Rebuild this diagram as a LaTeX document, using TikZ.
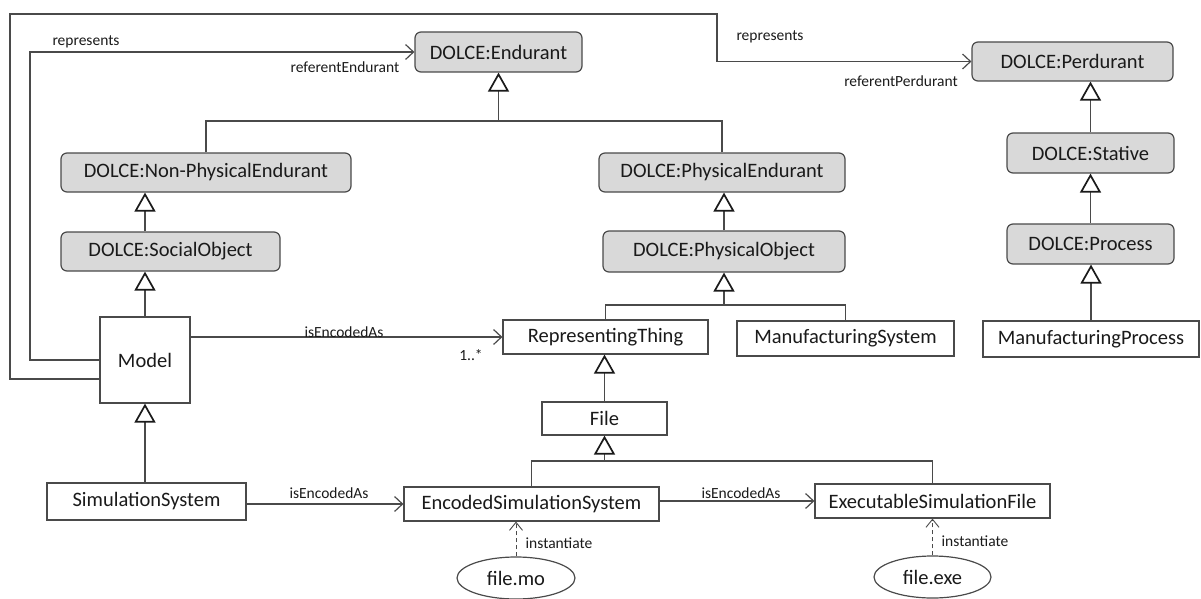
\documentclass[tikz,border=0pt]{standalone}
\usepackage{fontspec}
\setmainfont{Carlito}
\usetikzlibrary{arrows.meta,shapes.geometric,calc}
\definecolor{boxfill}{HTML}{D9D9D9}
\definecolor{linec}{HTML}{4A4A4A}
\definecolor{tipc}{HTML}{1A1A1A}
\definecolor{txtc}{HTML}{1A1A1A}
\tikzset{
  base/.style={draw=linec, line width=1.2pt, inner sep=0pt, text=txtc, font=\fontsize{20.5}{24}\selectfont, anchor=center},
  dolce/.style={base, fill=boxfill, rounded corners=6pt},
  cls/.style={base, fill=white},
  inst/.style={base, ellipse, fill=white},
  lbl/.style={text=txtc, font=\fontsize{15.5}{18}\selectfont, inner sep=0pt, anchor=center},
  conn/.style={draw=linec, line width=1.2pt},
  gen/.style={conn, -{Triangle[open, length=19pt, width=21pt, fill=white, color=tipc, line width=1.7pt]}},
  assoc/.style={conn, -{Straight Barb[length=8pt, width=15pt]}},
  dep/.style={draw=linec, line width=0.9pt, dash pattern=on 4pt off 3pt, -{Straight Barb[length=8pt, width=13pt]}},
}
\begin{document}
\begin{tikzpicture}[x=1pt, y=-1pt]
\useasboundingbox (0,0) rectangle (1201,599);
% DOLCE classes
\node[dolce, minimum width=167pt, minimum height=40pt] (end) at (498.5,52) {DOLCE:Endurant};
\node[dolce, minimum width=290pt, minimum height=39pt] (np) at (206,172.5) {DOLCE:Non-PhysicalEndurant};
\node[dolce, minimum width=219pt, minimum height=39pt] (so) at (170.5,251.5) {DOLCE:SocialObject};
\node[dolce, minimum width=246pt, minimum height=39pt] (pe) at (722,172.5) {DOLCE:PhysicalEndurant};
\node[dolce, minimum width=242pt, minimum height=41pt] (po) at (724,251.5) {DOLCE:PhysicalObject};
\node[dolce, minimum width=201pt, minimum height=39pt] (pd) at (1072.5,61.5) {DOLCE:Perdurant};
\node[dolce, minimum width=167pt, minimum height=40pt] (st) at (1090.5,153) {DOLCE:Stative};
\node[dolce, minimum width=167pt, minimum height=40pt] (pr) at (1090.5,244) {DOLCE:Process};
% plain classes
\node[cls, minimum width=90pt, minimum height=86pt] (mdl) at (145,360) {Model};
\node[cls, minimum width=205pt, minimum height=34pt] (rt) at (605.5,337) {RepresentingThing};
\node[cls, minimum width=217pt, minimum height=35pt] (ms) at (845.5,338.5) {ManufacturingSystem};
\node[cls, minimum width=216pt, minimum height=36pt] (mp) at (1091,339) {ManufacturingProcess};
\node[cls, minimum width=125pt, minimum height=33pt] (file) at (604.5,418.5) {File};
\node[cls, minimum width=199pt, minimum height=37pt] (ss) at (146.5,501.5) {SimulationSystem};
\node[cls, minimum width=255pt, minimum height=34pt] (ess) at (531.5,504) {EncodedSimulationSystem};
\node[cls, minimum width=235pt, minimum height=34pt] (esf) at (932.5,501) {ExecutableSimulationFile};
% instances
\node[inst, minimum width=118pt, minimum height=42pt] (fmo) at (516,578) {file.mo};
\node[inst, minimum width=117pt, minimum height=42pt] (fexe) at (932.5,577) {file.exe};
% junction coordinates
\coordinate (jE) at (498.5,121);
\coordinate (jPO) at (724,305);
\coordinate (jF) at (604.5,461);
% generalizations
\draw[conn] (np.north) |- (jE);
\draw[conn] (pe.north) |- (jE);
\draw[gen] (jE) -- (end.south);
\draw[gen] (so.north -| mdl.north) -- (np.south -| mdl.north);
\draw[gen] (mdl.north) -- (so.south -| mdl.north);
\draw[gen] (po.north) -- (po.north |- pe.south);
\draw[conn] (rt.north) |- (jPO);
\draw[conn] (ms.north) |- (jPO);
\draw[gen] (jPO) -- (po.south);
\draw[gen] (st.north) -- (st.north |- pd.south);
\draw[gen] (pr.north) -- (st.south);
\draw[gen] (mp.north) -- (mp.north |- pr.south);
\draw[gen] (file.north) -- (file.north |- rt.south);
\draw[conn] (ess.north) |- (jF);
\draw[conn] (esf.north) |- (jF);
\draw[gen] (jF) -- (file.south);
\draw[gen] (ss.north -| mdl.south) -- (mdl.south);
% associations
\coordinate (r1) at (30,360);
\draw[assoc] (mdl.west) -- (r1) |- (end.west);
\coordinate (r2a) at (10,379);
\coordinate (r2b) at (10,14);
\coordinate (r2c) at (717,14);
\draw[assoc] (mdl.west |- r2a) -- (r2a) -- (r2b) -- (r2c) |- (pd.west);
\draw[assoc] (rt.west -| mdl.east) -- (rt.west);
\draw[assoc] (ss.east |- ess.west) -- (ess.west);
\draw[assoc] (ess.east |- esf.west) -- (esf.west);
% instantiation
\draw[dep] (fmo.north) -- (fmo.north |- ess.south);
\draw[dep] (fexe.north) -- (esf.south);
% labels
\node[lbl] (l1) at (86,42) {represents};
\node[lbl] (l2) at (345,67) {referentEndurant};
\node[lbl] (l3) at (770,37) {represents};
\node[lbl] (l4) at (901,81) {referentPerdurant};
\node[lbl] (l5) at (344,332) {isEncodedAs};
\node[lbl] (l6) at (471,355) {1..*};
\node[lbl] (l7) at (329,493) {isEncodedAs};
\node[lbl] (l8) at (741,493) {isEncodedAs};
\node[lbl] (l9) at (559,543) {instantiate};
\node[lbl] (l10) at (975,541) {instantiate};
\end{tikzpicture}
\end{document}
